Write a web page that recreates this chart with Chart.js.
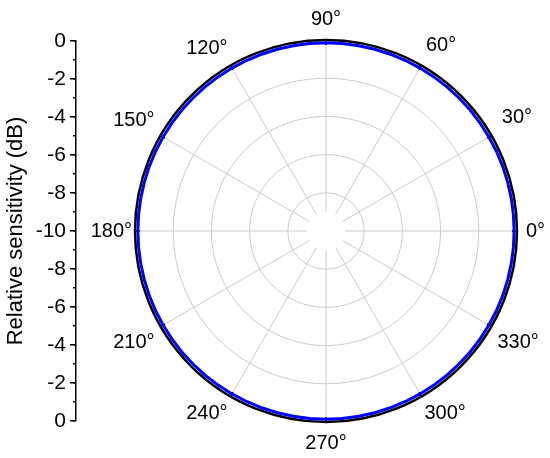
<!DOCTYPE html>
<html>
<head>
<meta charset="utf-8">
<script src="https://cdn.jsdelivr.net/npm/chart.js@4.4.1/dist/chart.umd.min.js"></script>
<style>
html,body{margin:0;padding:0;background:#fff;overflow:hidden}
#wrap{position:relative;width:550px;height:458px;overflow:hidden;background:#fff}
#axisCanvas{position:absolute;left:0;top:0;width:550px;height:458px}
#polarCanvas{position:absolute;left:26px;top:0;width:600px;height:458px}
</style>
</head>
<body>
<div id="wrap">
<canvas id="axisCanvas" width="550" height="458"></canvas>
<canvas id="polarCanvas" width="600" height="458"></canvas>
</div>
<script>
// ---- data ----
const angles = [0,5,10,15,20,25,30,35,40,45,50,55,60,65,70,75,80,85,90,95,100,105,110,115,
  120,125,130,135,140,145,150,155,160,165,170,175,180,185,190,195,200,205,210,215,220,225,230,235,
  240,245,250,255,260,265,270,275,280,285,290,295,300,305,310,315,320,325,330,335,340,345,350,355];
const sensitivity = [-0.15,-0.15,-0.15,-0.15,-0.15,-0.15,-0.15,-0.15,-0.15,-0.15,-0.15,-0.15,
  -0.15,-0.15,-0.15,-0.15,-0.15,-0.15,-0.15,-0.15,-0.15,-0.15,-0.15,-0.15,
  -0.15,-0.15,-0.15,-0.15,-0.15,-0.15,-0.15,-0.15,-0.15,-0.15,-0.15,-0.15,
  -0.15,-0.15,-0.15,-0.15,-0.15,-0.15,-0.15,-0.15,-0.15,-0.15,-0.15,-0.15,
  -0.15,-0.15,-0.15,-0.15,-0.15,-0.15,-0.15,-0.15,-0.15,-0.15,-0.15,-0.15,
  -0.15,-0.15,-0.15,-0.15,-0.15,-0.15,-0.15,-0.15,-0.15,-0.15,-0.15,-0.15];
const axisTickLabels = ['0','-2','-4','-6','-8','-10','-8','-6','-4','-2','0'];
const axisTitle = 'Relative sensitivity (dB)';
const radialMin = -10;
const radialMax = 0;

// ---- styles ----
const FONT = 'Arial, "Liberation Sans", sans-serif';
const labelPadding = {0:9,30:12,60:9,90:9,120:6,150:7,180:3,210:7,240:6,270:9,300:6,330:7};
Chart.defaults.color = '#000';

// radar draws clockwise from the start angle; reorder so angles run counter-clockwise from 3 o'clock
const chartLabels = [angles[0], ...angles.slice(1).reverse()];
const chartValues = [sensitivity[0], ...sensitivity.slice(1).reverse()];
const isMajor = i => chartLabels[i] % 30 === 0;

// ---- left dB axis ----
new Chart(document.getElementById('axisCanvas'), {
  type: 'scatter',
  data: { datasets: [] },
  options: {
    responsive: false, animation: false, devicePixelRatio: 1,
    layout: { padding: { top: 41, bottom: 37, left: 0, right: 0 } },
    plugins: { legend: { display: false }, tooltip: { enabled: false } },
    scales: {
      x: { display: false, min: 0, max: 1 },
      y: {
        type: 'linear', position: 'left', weight: 1, min: -10, max: 10,
        afterFit: s => { s.width = 76; },
        ticks: { stepSize: 2, autoSkip: false, padding: 4, color: '#000',
                 font: { family: FONT, size: 21 }, callback: (v, i) => axisTickLabels[i] },
        grid: { drawOnChartArea: false, drawTicks: true, tickLength: 6, color: '#000', lineWidth: 1.5 },
        border: { display: true, color: '#000', width: 1.5 },
        title: { display: true, text: axisTitle, color: '#000',
                 font: { family: FONT, size: 22 }, padding: { top: 3, bottom: 0 } }
      },
      y2: {
        type: 'linear', axis: 'y', position: 'left', weight: 0, min: -10, max: 10,
        afterFit: s => { s.width = 0; },
        ticks: { display: false, stepSize: 1, autoSkip: false },
        grid: { drawOnChartArea: false, drawTicks: true, tickLength: 3, color: '#000', lineWidth: 1.5 },
        border: { display: false }
      }
    }
  }
});

// ---- polar plot ----
const polarDecor = {
  id: 'polarDecor',
  beforeDatasetsDraw(chart) {
    const s = chart.scales.r, ctx = chart.ctx;
    ctx.save();
    ctx.fillStyle = '#fff';
    ctx.beginPath();
    ctx.arc(s.xCenter, s.yCenter, s.getDistanceFromCenterForValue(-9), 0, Math.PI * 2);
    ctx.fill();
    const outer = s.getDistanceFromCenterForValue(radialMax);
    ctx.strokeStyle = '#000';
    ctx.lineWidth = 1.5;
    chartLabels.forEach((a, i) => {
      if (!isMajor(i)) return;
      const p1 = s.getPointPosition(i, outer);
      const p2 = s.getPointPosition(i, outer - 5);
      ctx.beginPath(); ctx.moveTo(p1.x, p1.y); ctx.lineTo(p2.x, p2.y); ctx.stroke();
    });
    ctx.restore();
  }
};

new Chart(document.getElementById('polarCanvas'), {
  type: 'radar',
  data: {
    labels: chartLabels,
    datasets: [{
      data: chartValues, borderColor: '#0000ff', borderWidth: 3,
      backgroundColor: 'rgba(0,0,0,0)', fill: false, pointRadius: 0, pointHoverRadius: 0, tension: 0
    }]
  },
  options: {
    responsive: false, animation: false, devicePixelRatio: 1,
    layout: { padding: { top: 7, bottom: 3, left: 0, right: 0 } },
    plugins: { legend: { display: false }, tooltip: { enabled: false } },
    scales: {
      r: {
        min: radialMin, max: radialMax, startAngle: 90,
        ticks: { display: false, stepSize: 2 },
        grid: {
          circular: true,
          color: c => (c.tick && c.tick.value === radialMax) ? '#000' : '#cccccc',
          lineWidth: c => (c.tick && c.tick.value === radialMax) ? 2.5 : 1
        },
        angleLines: {
          color: c => isMajor(c.index) ? '#cccccc' : 'rgba(0,0,0,0)',
          lineWidth: c => isMajor(c.index) ? 1 : 0
        },
        pointLabels: {
          display: true, color: '#000', font: { family: FONT, size: 20 },
          padding: c => isMajor(c.index) ? labelPadding[chartLabels[c.index]] : 0,
          callback: l => (l % 30 === 0 ? l + '°' : '')
        }
      }
    }
  },
  plugins: [polarDecor]
});
</script>
</body>
</html>
